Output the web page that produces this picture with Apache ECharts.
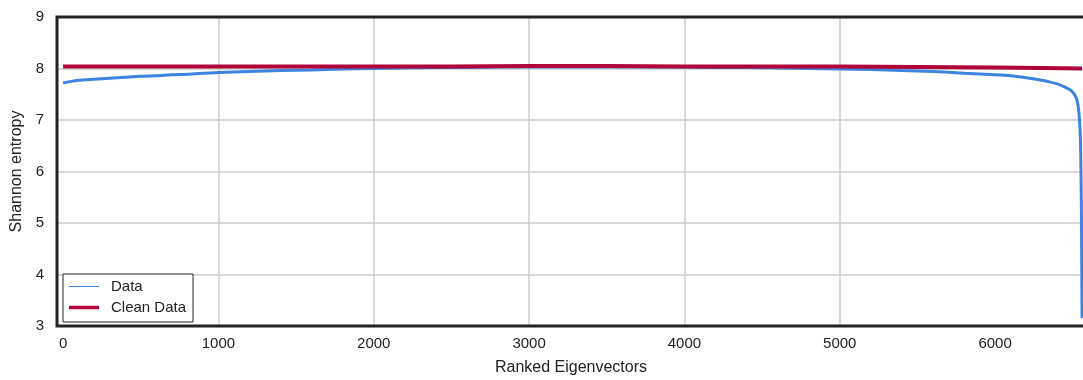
<!DOCTYPE html>
<html>
<head>
<meta charset="utf-8">
<script src="https://cdn.jsdelivr.net/npm/echarts@6/dist/echarts.min.js"></script>
<style>html,body{margin:0;padding:0;background:#fff}#c{width:1083px;height:380px}</style>
</head>
<body>
<div id="c"></div>
<script>
// Ranked eigenvector positions and Shannon entropy values
const dataRanks = [0,50,100,200,300,400,500,600,700,800,900,1000,1200,1400,1600,1800,2000,2200,2400,2600,2800,3000,3200,3400,3600,3800,4000,4200,4400,4600,4800,5000,5200,5400,5600,5800,6000,6100,6200,6300,6350,6400,6450,6480,6500,6520,6530,6540,6550,6555,6558,6560];
const dataValues = [7.72,7.75,7.77,7.79,7.81,7.83,7.85,7.86,7.88,7.89,7.91,7.92,7.94,7.96,7.97,7.99,8.00,8.01,8.02,8.02,8.03,8.03,8.03,8.03,8.03,8.03,8.03,8.02,8.02,8.01,8.00,7.99,7.98,7.96,7.94,7.91,7.88,7.86,7.82,7.77,7.74,7.70,7.64,7.59,7.54,7.45,7.35,7.15,6.60,5.50,4.20,3.15];
const cleanRanks = [0,500,1000,1500,2000,2500,3000,3500,4000,4500,5000,5500,6000,6300,6560];
const cleanValues = [8.04,8.04,8.04,8.04,8.04,8.04,8.05,8.05,8.04,8.04,8.04,8.03,8.02,8.01,8.00];
const xTicks = [0,1000,2000,3000,4000,5000,6000];
const yTicks = [3,4,5,6,7,8,9];
const seriesNames = ['Data','Clean Data'];

const pair = (xs, ys) => xs.map((x, i) => [x, ys[i]]);
const txt = '#222';
const font = 'Liberation Sans, Arial, sans-serif';
const blue = '#3d84e2';
const red = '#b0063a';

const chart = echarts.init(document.getElementById('c'), null, {renderer: 'canvas'});
chart.setOption({
  animation: false,
  backgroundColor: '#fff',
  textStyle: {fontFamily: font},
  grid: {left: 57, right: -2, top: 17, bottom: 54, outerBoundsMode: 'none', containLabel: false,
         show: true, borderColor: '#222', borderWidth: 3, backgroundColor: 'transparent', z: 10},
  xAxis: {
    type: 'value', min: -39, max: 6579,
    name: 'Ranked Eigenvectors', nameLocation: 'middle', nameGap: 34,
    nameTextStyle: {color: txt, fontSize: 16, fontFamily: font},
    axisLine: {show: false},
    axisTick: {show: false, customValues: xTicks},
    axisLabel: {color: txt, fontSize: 15, fontFamily: font, margin: 10, customValues: xTicks, formatter: v => String(v)},
    splitLine: {show: true, showMinLine: false, showMaxLine: false, lineStyle: {color: '#cccccc', width: 1.5}}
  },
  yAxis: {
    type: 'value', min: yTicks[0], max: yTicks[yTicks.length - 1], interval: 1,
    name: 'Shannon entropy', nameLocation: 'middle', nameGap: 30, nameRotate: 90,
    nameTextStyle: {color: txt, fontSize: 16, fontFamily: font},
    axisLine: {show: false}, axisTick: {show: false},
    axisLabel: {color: txt, fontSize: 15, fontFamily: font, margin: 13},
    splitLine: {show: true, showMinLine: false, showMaxLine: false, lineStyle: {color: '#cccccc', width: 1.5}}
  },
  legend: {
    orient: 'vertical', left: 63, top: 274,
    backgroundColor: '#fff', borderColor: '#222', borderWidth: 1,
    padding: [5, 7, 7, 6], itemGap: 6, itemWidth: 30, itemHeight: 14,
    textStyle: {color: txt, fontSize: 15, fontFamily: font, padding: [0, 0, 0, 7]},
    data: [
      {name: seriesNames[0], icon: 'path://M0,0 L30,0 L30,1 L0,1 Z', itemStyle: {color: blue}},
      {name: seriesNames[1], icon: 'path://M0,0 L30,0 L30,3.5 L0,3.5 Z', itemStyle: {color: red}}
    ]
  },
  series: [
    {name: seriesNames[0], type: 'line', data: pair(dataRanks, dataValues), symbol: 'none', smooth: 0.2,
     lineStyle: {color: blue, width: 3}, itemStyle: {color: blue}, z: 2},
    {name: seriesNames[1], type: 'line', data: pair(cleanRanks, cleanValues), symbol: 'none',
     lineStyle: {color: red, width: 4}, itemStyle: {color: red}, z: 3}
  ]
});
</script>
</body>
</html>
